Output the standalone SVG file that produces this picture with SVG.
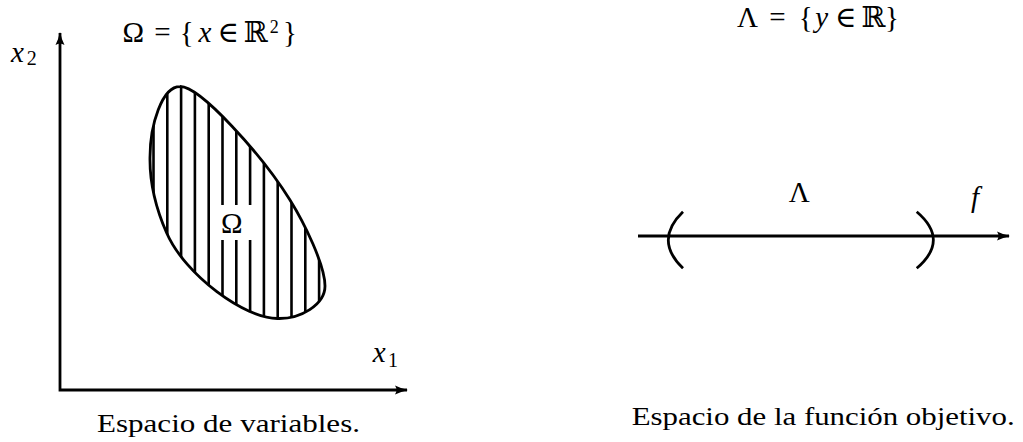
<svg xmlns="http://www.w3.org/2000/svg" width="1023" height="442" viewBox="0 0 1023 442">
<style>
text{font-family:'Liberation Serif','Times New Roman','DejaVu Serif',serif;fill:#000}
.m{font-size:29px}
.c{font-size:25px}
.i{font-style:italic}
.ln{fill:none;stroke:#000;stroke-width:2.8}
.h{stroke:#000;stroke-width:2.6}
</style>
<defs>
<marker id="ar" viewBox="0 -5 13 10" refX="12" refY="0" markerWidth="13" markerHeight="10" markerUnits="userSpaceOnUse" orient="auto-start-reverse">
<path d="M0,-4.5 Q6,-1.5 13,0 Q6,1.5 0,4.5 Q3,0 0,-4.5 Z" fill="#000"/>
</marker>
<clipPath id="ec"><path d="M180,86.5 C200,86 262,155 290,200 C304,222.5 325,265 325,286 C325,305 300,319 278,318.5 C245,319 185,275 166.7,233 C157.5,212 149.5,185 150,157 C150,125 162,86.5 180,86.5 Z"/></clipPath>
</defs>
<g id="connectors">
<path class="ln" d="M60,33 L60,390 L407,390" marker-start="url(#ar)" marker-end="url(#ar)" stroke-linejoin="miter"/>
<path class="ln" d="M638,236 L1009,236" marker-end="url(#ar)"/>
</g>
<g id="region-omega">
<g clip-path="url(#ec)">
<line class="h" x1="153.5" y1="80" x2="153.5" y2="330"/>
<line class="h" x1="167.3" y1="80" x2="167.3" y2="330"/>
<line class="h" x1="181.1" y1="80" x2="181.1" y2="330"/>
<line class="h" x1="194.9" y1="80" x2="194.9" y2="330"/>
<line class="h" x1="208.7" y1="80" x2="208.7" y2="330"/>
<line class="h" x1="222.5" y1="80" x2="222.5" y2="330"/>
<line class="h" x1="236.3" y1="80" x2="236.3" y2="330"/>
<line class="h" x1="250.1" y1="80" x2="250.1" y2="330"/>
<line class="h" x1="263.9" y1="80" x2="263.9" y2="330"/>
<line class="h" x1="277.7" y1="80" x2="277.7" y2="330"/>
<line class="h" x1="291.5" y1="80" x2="291.5" y2="330"/>
<line class="h" x1="305.3" y1="80" x2="305.3" y2="330"/>
<line class="h" x1="319.1" y1="80" x2="319.1" y2="330"/>
</g>
<path class="ln" d="M180,86.5 C200,86 262,155 290,200 C304,222.5 325,265 325,286 C325,305 300,319 278,318.5 C245,319 185,275 166.7,233 C157.5,212 149.5,185 150,157 C150,125 162,86.5 180,86.5 Z"/>
<rect x="219" y="205" width="33" height="35" fill="#fff"/>
<text class="m" x="231.7" y="232.7" text-anchor="middle">Ω</text>
</g>
<g id="interval-lambda">
<path class="ln" stroke-width="3.2" d="M683,211.7 Q653.6,240 683,268.3"/>
<path class="ln" stroke-width="3.2" d="M916.7,211.7 Q950,240 916.7,268.3"/>
<text class="m" x="799.2" y="201.7" text-anchor="middle">Λ</text>
<text class="m i" x="975" y="207" text-anchor="middle">f</text>
</g>
<g id="labels">
<text class="m" y="41.7" text-anchor="middle"><tspan x="133.3">Ω</tspan><tspan x="162.5">=</tspan><tspan x="186.7">{</tspan><tspan x="205" class="i">x</tspan><tspan x="228.3">∈</tspan><tspan x="255.8">ℝ</tspan><tspan x="274.2" y="33.3" font-size="18">2</tspan><tspan x="290" y="41.7">}</tspan></text>
<text class="m" y="26.7" text-anchor="middle"><tspan x="747.5">Λ</tspan><tspan x="777.5">=</tspan><tspan x="805.8">{</tspan><tspan x="821.7" class="i">y</tspan><tspan x="845.8">∈</tspan><tspan x="873.5">ℝ</tspan><tspan x="892">}</tspan></text>
<text class="m" text-anchor="middle"><tspan x="17.5" y="61.7" class="i">x</tspan><tspan x="31.7" y="65" font-size="20">2</tspan></text>
<text class="m" text-anchor="middle"><tspan x="379.2" y="361.7" class="i">x</tspan><tspan x="393" y="366.7" font-size="20">1</tspan></text>
<text class="c" x="97" y="431.7" textLength="263" lengthAdjust="spacingAndGlyphs">Espacio de variables.</text>
<text class="c" x="631.7" y="425" textLength="383" lengthAdjust="spacingAndGlyphs">Espacio de la función objetivo.</text>
</g>
</svg>
